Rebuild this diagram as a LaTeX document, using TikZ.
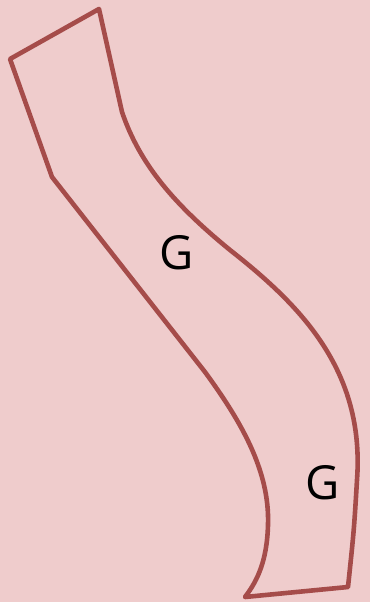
\documentclass[tikz,border=0pt]{standalone}
\usepackage{fontspec}
\setmainfont{Open Sans}
\definecolor{bgpink}{RGB}{239, 204, 204}
\definecolor{bandred}{RGB}{165, 76, 74}

\begin{document}
\begin{tikzpicture}[
    x=1pt, y=-1pt,
    band/.style={draw=bandred, line width=4.6pt, line join=round, fill=bgpink},
    glabel/.style={font=\fontsize{47}{50}\selectfont, text=black, inner sep=0pt}
]
    % Background
    \fill[bgpink] (0,0) rectangle (370,602);
    \useasboundingbox (0,0) rectangle (370,602);
    % Band outline
    \draw[band] (99,9) -- (10,59) -- (52,177) -- (205,372)
        .. controls (240,420) and (270,470) .. (268,525)
        .. controls (267,560) and (258,580) .. (245,597)
        -- (348,587)
        .. controls (354,530) .. (357,480)
        .. controls (365,370) and (300,305) .. (230,250)
        .. controls (175,205) and (140,165) .. (122,112) -- cycle;
    % Labels
    \node[glabel] (gupper) at (177,253) {G};
    \node[glabel] (glower) at (323,483) {G};
\end{tikzpicture}
\end{document}
